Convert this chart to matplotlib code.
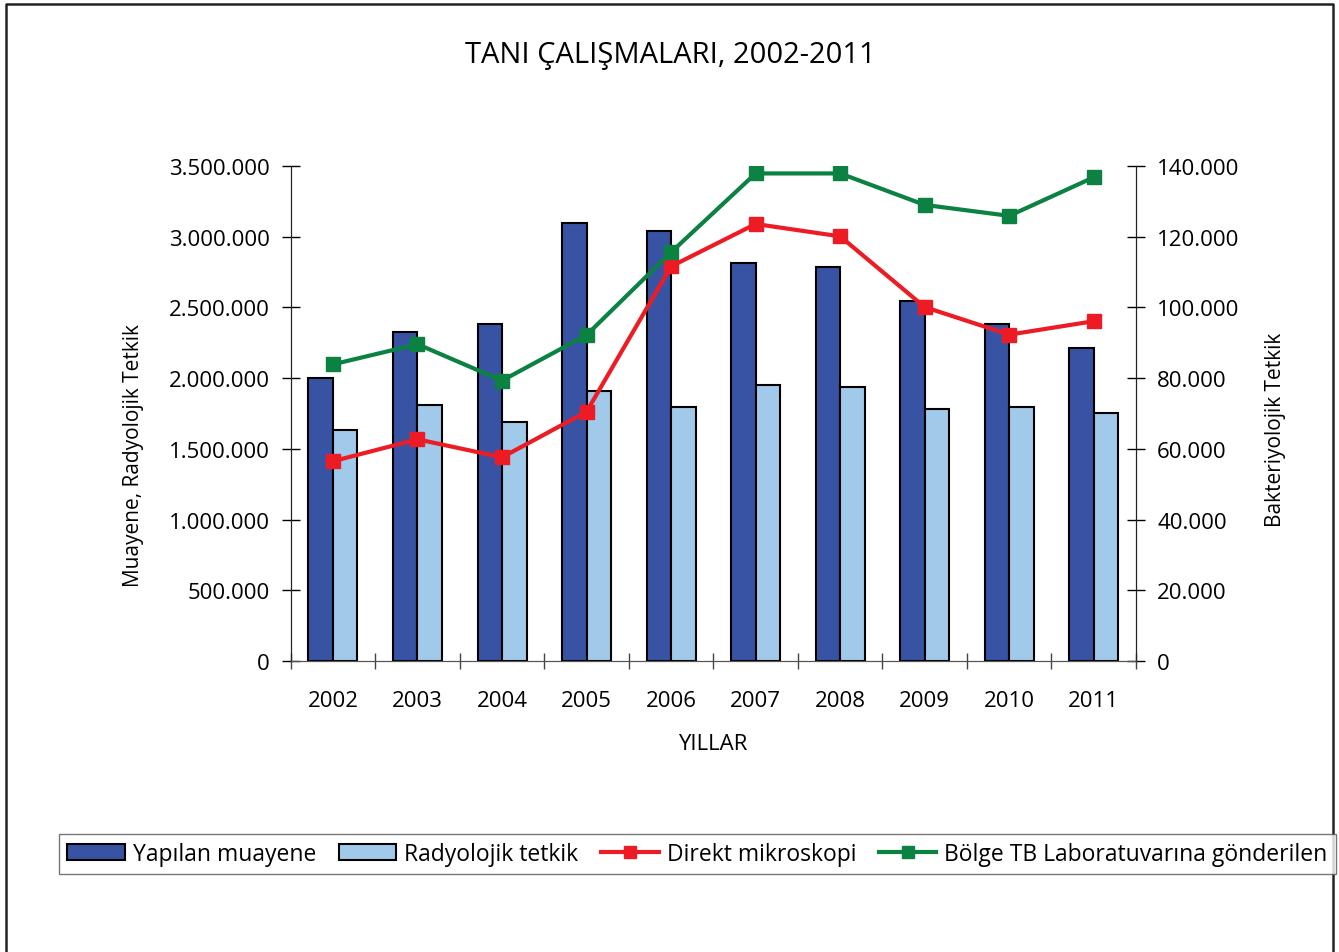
import matplotlib
matplotlib.use("Agg")
import matplotlib.pyplot as plt
from matplotlib.lines import Line2D
from matplotlib.patches import Patch
from matplotlib.ticker import FuncFormatter, FixedLocator
import numpy as np

plt.rcParams['font.family'] = ['Open Sans', 'DejaVu Sans']

# veriler (grafikten okunmuş yaklaşık değerler)
years = ["2002", "2003", "2004", "2005", "2006", "2007", "2008", "2009", "2010", "2011"]
muayene = [2004000, 2329000, 2384000, 3095000, 3040000, 2816000, 2787000, 2548000, 2381000, 2214000]
radyolojik = [1632000, 1813000, 1687000, 1909000, 1799000, 1949000, 1937000, 1785000, 1797000, 1756000]
direkt_mikroskopi = [56500, 62700, 57600, 70500, 111600, 123600, 120100, 100100, 92300, 96100]
bolge_tb = [83900, 89600, 79300, 92200, 115600, 137900, 137900, 129000, 125900, 136800]

C_DARK = "#3953A4"
C_LIGHT = "#A0C9EA"
C_RED = "#ED1C24"
C_GREEN = "#0B8142"

def tr_fmt(v, pos=None):
    return format(int(round(v)), ",").replace(",", ".")

fig = plt.figure(figsize=(13.39, 9.53), dpi=100)
ax = fig.add_axes([290.7 / 1339, 1 - 662 / 953, (1136 - 290.7) / 1339, (662 - 167) / 953])
ax2 = ax.twinx()

x = np.arange(len(years))
w = 0.29
ax.bar(x - w / 2, muayene, w, color=C_DARK, edgecolor="black", linewidth=1.5, zorder=2)
ax.bar(x + w / 2, radyolojik, w, color=C_LIGHT, edgecolor="black", linewidth=1.5, zorder=2)

ax2.plot(x, direkt_mikroskopi, color=C_RED, lw=3, marker="s", ms=10, zorder=3)
ax2.plot(x, bolge_tb, color=C_GREEN, lw=3, marker="s", ms=10, zorder=3)

ax.set_xlim(-0.5, 9.5)
ax.set_ylim(0, 3500000)
ax2.set_ylim(0, 140000)
ax.set_yticks(np.arange(0, 3500001, 500000))
ax2.set_yticks(np.arange(0, 140001, 20000))
ax.yaxis.set_major_formatter(FuncFormatter(tr_fmt))
ax2.yaxis.set_major_formatter(FuncFormatter(tr_fmt))

ax.set_xticks(x)
ax.set_xticklabels(years)
ax.xaxis.set_minor_locator(FixedLocator(np.arange(-0.5, 10, 1)))
ax.tick_params(axis="x", which="major", length=0, pad=21, labelsize=16)
ax.tick_params(axis="x", which="minor", direction="inout", length=11, width=1, color="#444444")
ax.tick_params(axis="y", direction="inout", length=12.5, width=1, pad=9, labelsize=16)
ax2.tick_params(axis="y", direction="inout", length=12.5, width=1, pad=9, labelsize=16)

for a in (ax, ax2):
    a.spines["top"].set_visible(False)
    a.spines["bottom"].set_color("#555555")
    a.spines["left"].set_color("#222222")
    a.spines["right"].set_color("#222222")

fig.text(670 / 1339, 1 - 56 / 953, "TANI ÇALIŞMALARI, 2002-2011", ha="center", va="center", fontsize=21)
fig.text(713 / 1339, 1 - 745 / 953, "YILLAR", ha="center", va="center", fontsize=16)
fig.text(133 / 1339, 1 - 456 / 953, "Muayene, Radyolojik Tetkik", rotation=90, ha="center", va="center", fontsize=15)
fig.text(1275 / 1339, 1 - 430 / 953, "Bakteriyolojik Tetkik", rotation=90, ha="center", va="center", fontsize=15)

handles = [
    Patch(facecolor=C_DARK, edgecolor="black", linewidth=1.5),
    Patch(facecolor=C_LIGHT, edgecolor="black", linewidth=1.5),
    Line2D([], [], color=C_RED, lw=3, marker="s", ms=9),
    Line2D([], [], color=C_GREEN, lw=3, marker="s", ms=9),
]
labels = ["Yapılan muayene", "Radyolojik tetkik", "Direkt mikroskopi", "Bölge TB Laboratuvarına gönderilen"]
leg = fig.legend(handles, labels, loc="center", bbox_to_anchor=(697.5 / 1339, 1 - 855 / 953),
                 ncol=4, fontsize=16.5, frameon=True, fancybox=False, handlelength=2.5,
                 handletextpad=0.35, columnspacing=1.0, borderpad=0.35)
leg.get_frame().set_edgecolor("#555555")
leg.get_frame().set_linewidth(1)

# dış çerçeve
fig.add_artist(Line2D([6 / 1339, 6 / 1339, 1333 / 1339, 1333 / 1339],
                      [0, 1 - 5 / 953, 1 - 5 / 953, 0],
                      transform=fig.transFigure, color="#222222", lw=1.8))

fig.savefig("out.png", dpi=100)
plt.close()
